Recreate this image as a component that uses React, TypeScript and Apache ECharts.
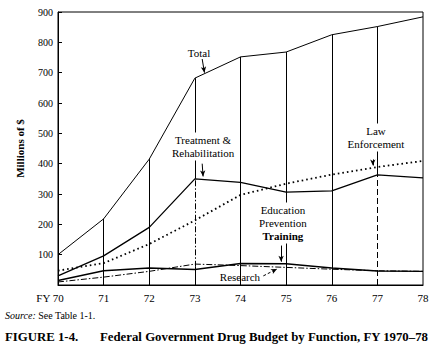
import React, { useEffect, useRef } from "react";
import * as echarts from "echarts";

const years = [70, 71, 72, 73, 74, 75, 76, 77, 78];
const total = [100, 218, 415, 682, 752, 768, 825, 852, 884];
const treatment = [30, 96, 190, 350, 338, 306, 310, 363, 353];
const lawEnforcement = [47, 72, 135, 213, 297, 334, 364, 389, 409];
const education = [15, 47, 56, 51, 71, 70, 56, 46, 45];
const research = [10, 26, 45, 69, 64, 58, 52, 47, 45];
const yTicks = [0, 100, 200, 300, 400, 500, 600, 700, 800, 900];

const FONT = "Liberation Serif, DejaVu Serif, serif";

export default function App() {
  const ref = useRef<HTMLDivElement>(null);

  useEffect(() => {
    document.body.style.margin = "0";
    const chart = echarts.init(ref.current!, null, { renderer: "svg" });
    const pair = (vals: number[]) => years.map((y, i) => [y, vals[i]]);
    const solid = { color: "#000", width: 1, type: "solid" as const };
    const seg = (x: number, a: number, b: number, style: any) => [
      { coord: [x, a], lineStyle: style, symbol: "none" },
      { coord: [x, b], symbol: "none" },
    ];
    const totalAt = (y: number) => total[years.indexOf(y)];
    const treatAt = (y: number) => treatment[years.indexOf(y)];

    const dropLines = [
      seg(71, 0, totalAt(71), solid),
      seg(72, 0, totalAt(72), solid),
      seg(73, treatAt(73), totalAt(73), solid),
      seg(73, 60, treatAt(73), { color: "#000", width: 1, type: [6, 2, 1.5, 2] }),
      seg(73, 0, 60, solid),
      seg(74, 0, totalAt(74), solid),
      seg(75, 0, totalAt(75), solid),
      seg(76, 0, totalAt(76), solid),
      seg(77, treatAt(77), totalAt(77), solid),
      seg(77, 0, treatAt(77), { color: "#000", width: 1, type: [6, 3] }),
    ];

    const arrow = (x1: number, v1: number, x2: number, v2: number, dashed = false) => [
      {
        coord: [x1, v1],
        symbol: "none",
        lineStyle: { color: "#000", width: 1, type: dashed ? [3, 2] : "solid" },
      },
      { coord: [x2, v2], symbol: "arrow", symbolSize: [4, 6] },
    ];

    const arrows = [
      arrow(73.16, 745, 73.21, 700),
      arrow(73.16, 400, 73.18, 358),
      arrow(76.9, 414, 76.9, 394),
      arrow(74.89, 130, 74.89, 77),
      arrow(74.5, 30, 74.8, 53, true),
    ];

    const option: any = {
      animation: false,
      backgroundColor: "#fff",
      textStyle: { fontFamily: FONT },
      grid: {
        left: 58,
        right: 18,
        top: 12,
        bottom: 67,
        show: true,
        borderColor: "#000",
        borderWidth: 1,
        backgroundColor: "transparent",
      },
      xAxis: {
        type: "value",
        min: 70,
        max: 78,
        interval: 1,
        axisLine: { show: true, lineStyle: { color: "#000", width: 1 } },
        axisTick: { show: false },
        splitLine: { show: false },
        axisLabel: {
          color: "#000",
          fontFamily: FONT,
          fontSize: 11,
          margin: 7,
          formatter: (v: number) => (v === years[0] ? "{a|FY " + v + "}" : String(v)),
          rich: { a: { fontFamily: FONT, fontSize: 11, color: "#000", padding: [0, 16, 0, 0] } },
        },
      },
      yAxis: {
        type: "value",
        min: yTicks[0],
        max: yTicks[yTicks.length - 1],
        interval: 100,
        name: "Millions of $",
        nameLocation: "middle",
        nameGap: 33,
        nameRotate: 90,
        nameTextStyle: { color: "#000", fontFamily: FONT, fontSize: 11, fontWeight: "bold" },
        axisLine: { show: true, lineStyle: { color: "#000", width: 1 } },
        axisTick: { show: true, inside: true, length: 4, lineStyle: { color: "#000" } },
        splitLine: { show: false },
        axisLabel: {
          color: "#000",
          fontFamily: FONT,
          fontSize: 10,
          margin: 5,
          formatter: (v: number) => (v === 0 ? "" : String(v)),
        },
      },
      series: [
        {
          name: "Total",
          type: "line",
          data: pair(total),
          symbol: "none",
          lineStyle: { color: "#000", width: 1 },
          markLine: {
            silent: true,
            symbol: ["none", "none"],
            label: { show: false },
            data: dropLines,
            animation: false,
          },
        },
        {
          name: "Treatment & Rehabilitation",
          type: "line",
          data: pair(treatment),
          symbol: "none",
          lineStyle: { color: "#000", width: 1.3 },
        },
        {
          name: "Law Enforcement",
          type: "line",
          data: pair(lawEnforcement),
          symbol: "none",
          lineStyle: { color: "#000", width: 1.8, type: [1.6, 3] },
        },
        {
          name: "Education Prevention Training",
          type: "line",
          data: pair(education),
          symbol: "none",
          lineStyle: { color: "#000", width: 1.4 },
        },
        {
          name: "Research",
          type: "line",
          data: pair(research),
          symbol: "none",
          lineStyle: { color: "#000", width: 1, type: [6, 2, 1.5, 2] },
          markLine: {
            silent: true,
            label: { show: false },
            data: arrows,
            animation: false,
          },
        },
      ],
    };
    chart.setOption(option);

    const p = (x: number, v: number) => chart.convertToPixel({ gridIndex: 0 }, [x, v]) as number[];
    const label = (x: number, v: number, text: string, extra: any = {}) => {
      const [px, py] = p(x, v);
      return {
        type: "text",
        z: 100,
        x: px,
        y: py,
        style: {
          text,
          fill: "#000",
          fontFamily: FONT,
          fontSize: 11,
          align: "center",
          verticalAlign: "middle",
          lineHeight: 13,
          backgroundColor: "#fff",
          padding: [1, 2],
          ...extra,
        },
      };
    };

    chart.setOption({
      graphic: [
        label(73.09, 765, "Total", { backgroundColor: "transparent" }),
        label(73.18, 457, "Treatment &\nRehabilitation"),
        label(76.97, 486, "Law\nEnforcement"),
        label(74.93, 204, "Education\nPrevention\n{b|Training}", {
          rich: { b: { fontFamily: FONT, fontSize: 11, fontWeight: "bold", fill: "#000" } },
        }),
        label(74.43, 26, "Research", { align: "right", backgroundColor: "transparent", padding: 0 }),
        {
          type: "text",
          z: 100,
          x: 5,
          y: 315,
          style: {
            text: "{i|Source:} See Table 1-1.",
            fill: "#000",
            fontFamily: FONT,
            fontSize: 10,
            verticalAlign: "middle",
            rich: { i: { fontFamily: FONT, fontSize: 10, fontStyle: "italic", fill: "#000" } },
          },
        },
        {
          type: "text",
          z: 100,
          x: 5,
          y: 337,
          style: {
            text: "FIGURE 1-4.",
            fill: "#000",
            fontFamily: FONT,
            fontSize: 12.8,
            fontWeight: "bold",
            verticalAlign: "middle",
          },
        },
        {
          type: "text",
          z: 100,
          x: 100,
          y: 337,
          style: {
            text: "Federal Government Drug Budget by Function, FY 1970\u201378",
            fill: "#000",
            fontFamily: FONT,
            fontSize: 12.8,
            fontWeight: "bold",
            verticalAlign: "middle",
          },
        },
      ],
    });

    return () => chart.dispose();
  }, []);

  return (
    <div
      ref={ref}
      style={{ position: "absolute", left: 0, top: 0, width: 441, height: 352 }}
    />
  );
}
